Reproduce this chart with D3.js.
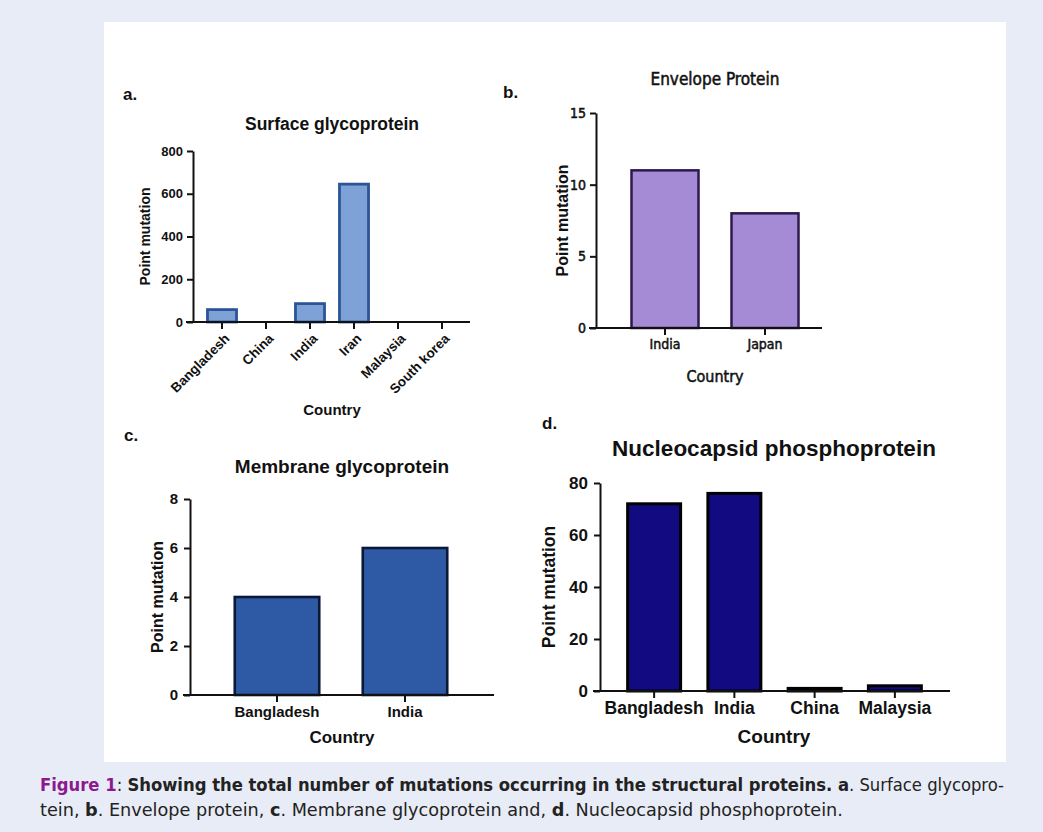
<!DOCTYPE html>
<html>
<head>
<meta charset="utf-8">
<script src="https://cdn.jsdelivr.net/npm/d3@7"></script>
<style>
  body { margin: 0; background: #e8ecf6; }
</style>
</head>
<body>
<div id="canvas"></div>
<script>
// surface glycoprotein (a)
const surfaceCountries = ["Bangladesh", "China", "India", "Iran", "Malaysia", "South korea"];
const surfaceValues = [58, 0, 86, 645, 0, 0];
const surfaceTicks = [0, 200, 400, 600, 800];

// envelope protein (b)
const envelopeCountries = ["India", "Japan"];
const envelopeValues = [11, 8];
const envelopeTicks = [0, 5, 10, 15];

// membrane glycoprotein (c)
const membraneCountries = ["Bangladesh", "India"];
const membraneValues = [4, 6];
const membraneTicks = [0, 2, 4, 6, 8];

// nucleocapsid phosphoprotein (d)
const nucleoCountries = ["Bangladesh", "India", "China", "Malaysia"];
const nucleoValues = [72, 76, 1, 2];
const nucleoTicks = [0, 20, 40, 60, 80];

const sans = "Liberation Sans, Arial, sans-serif";
const narrow = "DejaVu Sans Condensed, Liberation Sans Narrow, sans-serif";

const svg = d3
  .select("#canvas")
  .append("svg")
  .attr("width", 1043)
  .attr("height", 832);

svg.append("rect").attr("width", 1043).attr("height", 832).attr("fill", "#e8ecf6");
svg.append("rect")
  .attr("x", 104).attr("y", 22)
  .attr("width", 902).attr("height", 740)
  .attr("fill", "#ffffff");

const panels = [
  {
    letter: "a.", lx: 123, ly: 100,
    title: "Surface glycoprotein", tx: 332, ty: 130, tsize: 17.5,
    cats: surfaceCountries, vals: surfaceValues, ticks: surfaceTicks,
    axisX: 193, x0: 200, x1: 464, axisEnd: 470, y0: 322, y1: 151, pad: 0.34,
    fill: "#7ea2d8", stroke: "#2b5596", sw: 2.8,
    font: sans, titleFont: sans, titleWeight: "bold",
    tick: 13, xtick: 13.5, tickPad: 4, rotate: true,
    ylabX: 150, ylabSize: 14, xlabY: 415, xlabSize: 15
  },
  {
    letter: "b.", lx: 503, ly: 98,
    title: "Envelope Protein", tx: 715, ty: 85, tsize: 17,
    cats: envelopeCountries, vals: envelopeValues, ticks: envelopeTicks,
    axisX: 596, x0: 615, x1: 815, axisEnd: 822, y0: 328, y1: 113, pad: 0.33,
    fill: "#a58ad5", stroke: "#2c1a4e", sw: 2.5,
    font: narrow, titleFont: narrow, titleWeight: "normal", tickWeight: "normal",
    heavy: 0.5,
    tick: 14, xtick: 14, tickPad: 4, rotate: false,
    ylabX: 568, ylabSize: 16, xlabY: 382, xlabSize: 16, xlabFont: narrow, xlabWeight: "normal"
  },
  {
    letter: "c.", lx: 124, ly: 441,
    title: "Membrane glycoprotein", tx: 342, ty: 473, tsize: 19,
    cats: membraneCountries, vals: membraneValues, ticks: membraneTicks,
    axisX: 190, x0: 213, x1: 469, axisEnd: 494, y0: 695, y1: 499, pad: 0.34,
    fill: "#2e5aa5", stroke: "#0c1838", sw: 2.6,
    font: sans, titleFont: sans, titleWeight: "bold",
    tick: 15, xtick: 15, tickPad: 6, rotate: false,
    ylabX: 163, ylabSize: 16, xlabY: 743, xlabSize: 17
  },
  {
    letter: "d.", lx: 542, ly: 429,
    title: "Nucleocapsid phosphoprotein", tx: 774, ty: 456, tsize: 22.5,
    cats: nucleoCountries, vals: nucleoValues, ticks: nucleoTicks,
    axisX: 600, x0: 614, x1: 935, axisEnd: 950, y0: 691, y1: 483, pad: 0.34,
    fill: "#110a80", stroke: "#000000", sw: 3,
    font: sans, titleFont: sans, titleWeight: "bold",
    tick: 17, xtick: 17.5, tickPad: 6, rotate: false,
    ylabX: 555, ylabSize: 17.5, xlabY: 743, xlabSize: 19
  }
];

panels.forEach(drawPanel);

function drawPanel(p) {
  const g = svg.append("g").style("font-family", p.font).attr("fill", "#111");
  const tickWeight = p.tickWeight || "bold";
  // narrow panel text is a touch heavier than a plain regular face
  const thicken = sel => {
    if (p.heavy) sel.attr("stroke", "#111").attr("stroke-width", p.heavy);
    return sel;
  };

  const x = d3
    .scaleBand()
    .domain(p.cats)
    .range([p.x0, p.x1])
    .paddingInner(p.pad)
    .paddingOuter(p.pad / 2);
  const y = d3.scaleLinear().domain([0, d3.max(p.ticks)]).range([p.y0, p.y1]);

  g.append("text")
    .attr("x", p.lx).attr("y", p.ly)
    .style("font-family", sans)
    .style("font-size", "17px").style("font-weight", "bold")
    .text(p.letter);

  g.append("text")
    .attr("x", p.tx).attr("y", p.ty)
    .attr("text-anchor", "middle")
    .style("font-family", p.titleFont)
    .style("font-size", p.tsize + "px").style("font-weight", p.titleWeight)
    .call(thicken)
    .text(p.title);

  g.selectAll("rect.bar")
    .data(p.vals)
    .enter()
    .append("rect")
    .attr("class", "bar")
    .attr("x", (d, i) => x(p.cats[i]))
    .attr("width", x.bandwidth())
    .attr("y", d => y(d))
    .attr("height", d => y(0) - y(d))
    .attr("fill", p.fill)
    .attr("stroke", d => d > 0 ? p.stroke : "none")
    .attr("stroke-width", p.sw);

  const ya = g.append("g")
    .attr("transform", `translate(${p.axisX},0)`)
    .call(d3.axisLeft(y).tickValues(p.ticks).tickSize(6).tickSizeOuter(0).tickPadding(p.tickPad));
  ya.select(".domain").attr("stroke", "#111").attr("stroke-width", 2);
  ya.selectAll(".tick line").attr("stroke", "#111").attr("stroke-width", 2);
  ya.selectAll(".tick text")
    .style("font-size", p.tick + "px").style("font-weight", tickWeight)
    .style("font-family", p.font).attr("fill", "#111")
    .call(thicken);

  const xa = g.append("g")
    .attr("transform", `translate(0,${p.y0})`)
    .call(d3.axisBottom(x).tickSize(7).tickSizeOuter(0).tickPadding(4));
  xa.select(".domain").remove();
  xa.selectAll(".tick line").attr("stroke", "#111").attr("stroke-width", 2);
  xa.selectAll(".tick text")
    .style("font-size", p.xtick + "px").style("font-weight", tickWeight)
    .style("font-family", p.font).attr("fill", "#111")
    .call(thicken);
  if (p.rotate) {
    xa.selectAll(".tick text")
      .attr("text-anchor", "end")
      .attr("y", 0)
      .attr("dy", "0.35em")
      .attr("transform", "translate(5,14) rotate(-45)");
  }

  g.append("line")
    .attr("x1", p.axisX - 7).attr("x2", p.axisEnd)
    .attr("y1", p.y0).attr("y2", p.y0)
    .attr("stroke", "#111").attr("stroke-width", 2);

  g.append("text")
    .attr("transform", `translate(${p.ylabX},${(p.y0 + p.y1) / 2}) rotate(-90)`)
    .attr("text-anchor", "middle")
    .style("font-family", sans)
    .style("font-size", p.ylabSize + "px").style("font-weight", "bold")
    .text("Point mutation");

  const xl = g.append("text")
    .attr("x", p.tx).attr("y", p.xlabY)
    .attr("text-anchor", "middle")
    .style("font-family", p.xlabFont || sans)
    .style("font-size", p.xlabSize + "px").style("font-weight", p.xlabWeight || "bold")
    .text("Country");
  if (p.xlabFont) xl.call(thicken);
}

// caption, squeezed to the width of the printed lines
const captionLines = [
  [
    { t: "Figure 1", b: true, c: "#8b1a8e" },
    { t: ": " },
    { t: "Showing the total number of mutations occurring in the structural proteins. a", b: true },
    { t: ". Surface glycopro-" }
  ],
  [
    { t: "tein, " }, { t: "b", b: true }, { t: ". Envelope protein, " },
    { t: "c", b: true }, { t: ". Membrane glycoprotein and, " },
    { t: "d", b: true }, { t: ". Nucleocapsid phosphoprotein." }
  ]
];
const captionY = [791, 816];
const captionWidth = [965, 803];

captionLines.forEach((parts, li) => {
  const txt = svg.append("text")
    .style("font-family", narrow)
    .style("font-size", "17px")
    .attr("fill", "#222");
  parts.forEach(s => {
    txt.append("tspan")
      .attr("fill", s.c || "#222")
      .style("font-weight", s.b ? "bold" : "normal")
      .text(s.t);
  });
  const w = txt.node().getComputedTextLength();
  txt.attr("transform", `translate(40,${captionY[li]}) scale(${captionWidth[li] / w},1)`);
});
</script>
</body>
</html>
